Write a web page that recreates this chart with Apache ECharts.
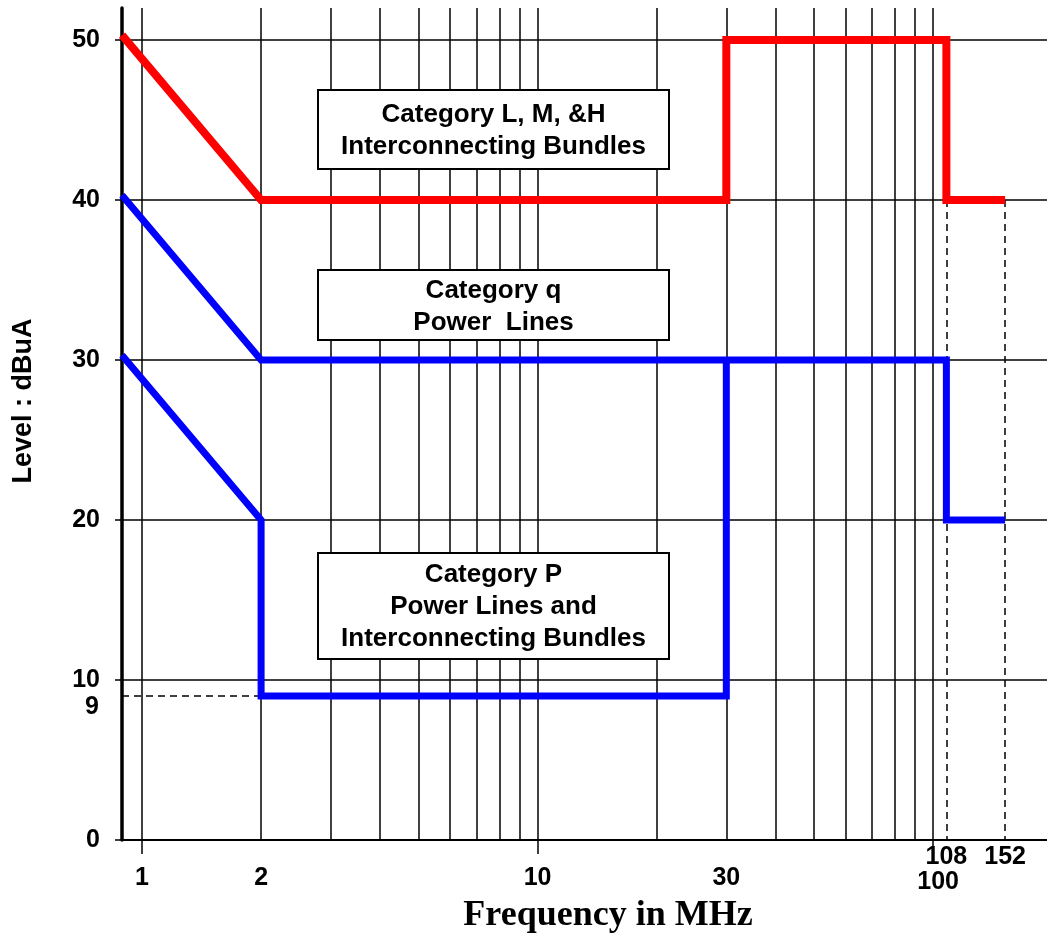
<!DOCTYPE html>
<html>
<head>
<meta charset="utf-8">
<script src="https://cdn.jsdelivr.net/npm/echarts@6/dist/echarts.min.js"></script>
<style>
html,body{margin:0;padding:0;background:#fff;}
#chart{width:1047px;height:942px;}
</style>
</head>
<body>
<div id="chart"></div>
<script>
// ---- data ----
const xGridValues = [1, 2, 3, 4, 5, 6, 7, 8, 9, 10, 20, 30, 40, 50, 60, 70, 80, 90, 100];
const yGridValues = [10, 20, 30, 40, 50];
const xTickLabels = [1, 2, 10, 30];
const xMajorTicks = [1, 10, 100];
const xLowLabel = [100];
const xHighLabels = [108, 152];
const yTickLabels = [0, 10, 20, 30, 40, 50];
const yExtraLabel = [9];
const xMin = 0.89;
const xMax = 194;
const catLMH = [[0.89, 50.3], [2, 40], [30, 40], [30, 50], [108, 50], [108, 40], [152, 40]];
const catQ = [[0.89, 40.3], [2, 30], [108, 30], [108, 20], [152, 20]];
const catP = [[0.89, 30.3], [2, 20], [2, 9], [30, 9], [30, 30]];
const dashedRefs = [
  [[108, 40], [108, 0]],
  [[152, 40], [152, 0]],
  [[0.89, 9], [2, 9]]
];
const boxTexts = [
  'Category L, M, &H\nInterconnecting Bundles',
  'Category q\nPower  Lines',
  'Category P\nPower Lines and\nInterconnecting Bundles'
];

const FONT = "'Liberation Sans', Arial, sans-serif";
const chart = echarts.init(document.getElementById('chart'), null, {renderer: 'canvas'});

const gridMarks = [];
xGridValues.forEach(v => gridMarks.push({xAxis: v}));
yGridValues.forEach(v => gridMarks.push({yAxis: v}));

const boxes = [
  {x: 318, y: 90, w: 351, h: 79},
  {x: 318, y: 270, w: 351, h: 70},
  {x: 318, y: 553, w: 351, h: 106}
];
const graphics = [];
boxes.forEach((b, i) => {
  graphics.push({
    type: 'rect', z: 100,
    shape: {x: b.x, y: b.y, width: b.w, height: b.h},
    style: {fill: '#fff', stroke: '#000', lineWidth: 2}
  });
  graphics.push({
    type: 'text', z: 101,
    x: b.x + b.w / 2, y: b.y + b.h / 2 + (i === 1 ? 2 : 1),
    style: {
      text: boxTexts[i], fill: '#000',
      font: 'bold 26px ' + FONT,
      align: 'center', verticalAlign: 'middle', lineHeight: 32
    }
  });
});
graphics.push({
  type: 'text', z: 101, x: 608, y: 916,
  style: {text: 'Frequency in MHz', fill: '#000',
    font: "bold 36px 'Liberation Serif', 'Times New Roman', serif",
    align: 'center', verticalAlign: 'middle'}
});
graphics.push({
  type: 'text', z: 101, x: 24, y: 401, rotation: Math.PI / 2,
  style: {text: 'Level : dBuA', fill: '#000',
    font: 'bold 27px ' + FONT,
    align: 'center', verticalAlign: 'middle'}
});

const labelStyle = {color: '#000', fontFamily: FONT, fontWeight: 'bold', fontSize: 25};
const plainItem = {opacity: 1, color: '#000'};

chart.setOption({
  animation: false,
  backgroundColor: '#fff',
  grid: {left: 122, right: 0, top: 8, bottom: 102, containLabel: false},
  xAxis: {
    type: 'log', logBase: 10, min: xMin, max: xMax,
    axisLine: {show: true, onZero: false, lineStyle: {color: '#000', width: 2}},
    axisTick: {show: true, customValues: xMajorTicks, length: 14, lineStyle: {color: '#000', width: 1.5}},
    axisLabel: Object.assign({customValues: xTickLabels, margin: 26}, labelStyle),
    splitLine: {show: false}, minorTick: {show: false}, minorSplitLine: {show: false}
  },
  yAxis: {
    type: 'value', min: 0, max: 52, interval: 10,
    axisLine: {show: true, lineStyle: {color: '#000', width: 3.5}},
    axisTick: {show: true, customValues: yTickLabels, length: 7, lineStyle: {color: '#000', width: 1.5}},
    axisLabel: Object.assign({customValues: yTickLabels, margin: 22}, labelStyle),
    splitLine: {show: false}
  },
  graphic: graphics,
  series: [
    {
      name: 'grid', type: 'line', data: [], z: 1, silent: true,
      markLine: {
        silent: true, symbol: 'none', label: {show: false},
        lineStyle: {color: '#000', width: 1.5, type: 'solid'},
        emphasis: {disabled: true},
        data: gridMarks
      }
    },
    {
      name: 'refs', type: 'line', data: [], z: 1, silent: true,
      markLine: {
        silent: true, symbol: 'none', label: {show: false},
        lineStyle: {color: '#000', width: 1.5, type: [7, 5]},
        emphasis: {disabled: true},
        data: dashedRefs.map(seg => [{coord: seg[0]}, {coord: seg[1]}])
      }
    },
    {
      name: 'Category L, M, &H', type: 'line', data: catLMH, z: 5,
      symbol: 'none', lineStyle: {color: '#ff0000', width: 8, join: 'miter', cap: 'butt'}, clip: false
    },
    {
      name: 'Category q', type: 'line', data: catQ, z: 5,
      symbol: 'none', lineStyle: {color: '#0000ff', width: 7, join: 'miter', cap: 'butt'}, clip: false
    },
    {
      name: 'Category P', type: 'line', data: catP, z: 5,
      symbol: 'none', lineStyle: {color: '#0000ff', width: 7, join: 'miter', cap: 'butt'}, clip: false
    },
    {
      name: 'labelsHigh', type: 'scatter', symbolSize: 0, silent: true, z: 6, itemStyle: plainItem,
      data: xHighLabels.map(v => [v, 0]),
      label: Object.assign({show: true, position: 'bottom', distance: 5, formatter: p => String(p.value[0])}, labelStyle)
    },
    {
      name: 'labelsLow', type: 'scatter', symbolSize: 0, silent: true, z: 6, itemStyle: plainItem,
      data: xLowLabel.map(v => [v, 0]),
      label: Object.assign({show: true, position: 'bottom', distance: 30, offset: [5, 0], formatter: p => String(p.value[0])}, labelStyle)
    },
    {
      name: 'labelY9', type: 'scatter', symbolSize: 0, silent: true, z: 6, itemStyle: plainItem,
      data: yExtraLabel.map(v => [xMin, v]),
      label: Object.assign({show: true, position: 'left', distance: 23, offset: [0, 11], formatter: p => String(p.value[1])}, labelStyle)
    }
  ]
});
</script>
</body>
</html>
